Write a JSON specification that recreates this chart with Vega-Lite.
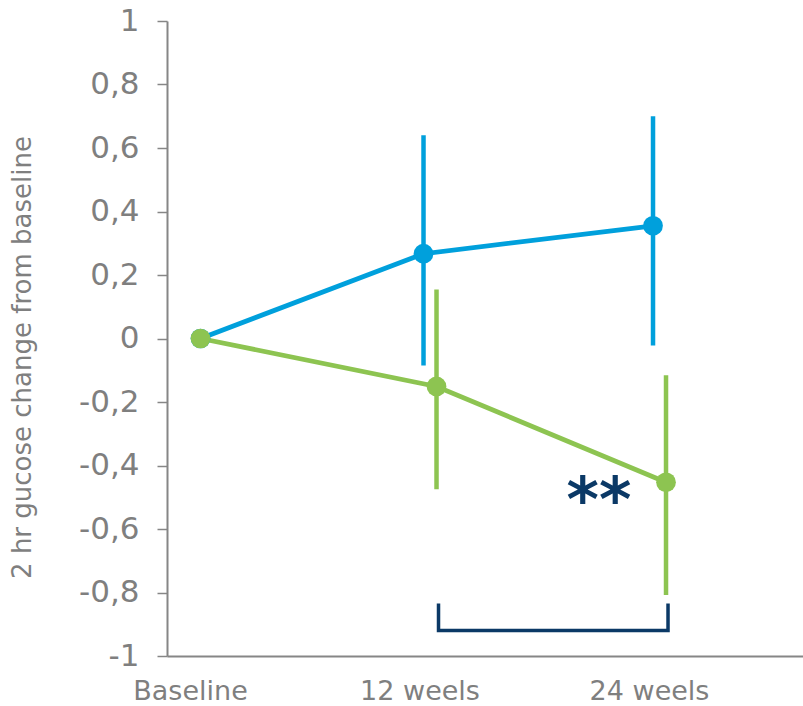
{
  "$schema": "https://vega.github.io/schema/vega-lite/v6.json",
  "width": 636,
  "height": 635,
  "autosize": {"type": "none"},
  "padding": {"left": 167, "top": 21, "right": 0, "bottom": 50},
  "background": "white",
  "config": {"view": {"stroke": null}, "font": "DejaVu Sans"},
  "datasets": {
    "main": [
      {"time": "Baseline", "arm": "Control", "mean": 0.0},
      {"time": "12 weels", "arm": "Control", "mean": 0.267, "lo": -0.085, "hi": 0.64},
      {"time": "24 weels", "arm": "Control", "mean": 0.355, "lo": -0.022, "hi": 0.70},
      {"time": "Baseline", "arm": "Treatment", "mean": 0.0},
      {"time": "12 weels", "arm": "Treatment", "mean": -0.151, "lo": -0.475, "hi": 0.154},
      {"time": "24 weels", "arm": "Treatment", "mean": -0.453, "lo": -0.808, "hi": -0.116}
    ],
    "bracket": [
      {"time": "12 weels", "v": -0.84, "k": 1},
      {"time": "12 weels", "v": -0.92, "k": 2},
      {"time": "24 weels", "v": -0.92, "k": 3},
      {"time": "24 weels", "v": -0.84, "k": 4}
    ],
    "note": [
      {"time": "24 weels", "v": -0.47, "label": "**"}
    ]
  },
  "encoding": {
    "x": {
      "field": "time",
      "type": "nominal",
      "sort": ["Baseline", "12 weels", "24 weels"],
      "scale": {"type": "point", "domain": ["Baseline", "12 weels", "24 weels"], "padding": 0.3856, "align": 0.13},
      "axis": {
        "title": null,
        "ticks": false,
        "domainColor": "#868686",
        "domainWidth": 2,
        "labelFontSize": 27,
        "labelColor": "#7f7f7f",
        "labelPadding": 22,
        "labelAngle": 0,
        "grid": false
      }
    }
  },
  "layer": [
    {
      "data": {"name": "main"},
      "transform": [{"calculate": "datum.time === 'Baseline' ? 'base' : datum.arm", "as": "slot"}],
      "layer": [
        {
          "mark": {"type": "rule", "strokeWidth": 4.5},
          "encoding": {
            "y": {"field": "lo", "type": "quantitative"},
            "y2": {"field": "hi"},
            "xOffset": {"field": "slot", "type": "nominal", "scale": {"type": "point", "domain": ["Control", "base", "Treatment"], "range": [4, 17], "padding": 0}},
            "color": {"field": "arm", "type": "nominal", "scale": {"domain": ["Control", "Treatment"], "range": ["#00A0DC", "#8DC451"]}, "legend": null}
          }
        },
        {
          "mark": {"type": "line", "strokeWidth": 4.8},
          "encoding": {
            "y": {
              "field": "mean",
              "type": "quantitative",
              "scale": {"domain": [-1, 1], "nice": false, "zero": false},
              "axis": {
                "values": [-1, -0.8, -0.6, -0.4, -0.2, 0, 0.2, 0.4, 0.6, 0.8, 1],
                "labelExpr": "replace(replace(format(datum.value, '.1~f'), '.', ','), '−', '-')",
                "title": "2 hr gucose change from baseline",
                "titleFontSize": 26,
                "titleFontWeight": "normal",
                "titleColor": "#7f7f7f",
                "titleX": -132,
                "titleY": 336,
                "grid": false,
                "tickSize": 10,
                "tickWidth": 1.5,
                "tickColor": "#868686",
                "domainColor": "#868686",
                "domainWidth": 2,
                "labelFontSize": 31,
                "labelColor": "#7f7f7f",
                "labelPadding": 18
              }
            },
            "xOffset": {"field": "slot", "type": "nominal", "scale": {"type": "point", "domain": ["Control", "base", "Treatment"], "range": [4, 17], "padding": 0}},
            "color": {"field": "arm", "type": "nominal", "legend": null}
          }
        },
        {
          "mark": {"type": "circle", "size": 390, "opacity": 1},
          "encoding": {
            "y": {"field": "mean", "type": "quantitative"},
            "xOffset": {"field": "slot", "type": "nominal", "scale": {"type": "point", "domain": ["Control", "base", "Treatment"], "range": [4, 17], "padding": 0}},
            "color": {"field": "arm", "type": "nominal", "legend": null}
          }
        }
      ]
    },
    {
      "data": {"name": "bracket"},
      "mark": {"type": "line", "strokeWidth": 3.5, "color": "#0B3966", "xOffset": 19, "strokeJoin": "miter", "strokeCap": "square"},
      "encoding": {
        "y": {"field": "v", "type": "quantitative"},
        "order": {"field": "k", "type": "quantitative"}
      }
    },
    {
      "data": {"name": "note"},
      "mark": {"type": "text", "fontSize": 62, "fontWeight": "bold", "color": "#0B3966", "dx": -50, "baseline": "middle", "align": "center", "dy": 14},
      "encoding": {
        "y": {"field": "v", "type": "quantitative"},
        "text": {"field": "label"}
      }
    }
  ]
}
